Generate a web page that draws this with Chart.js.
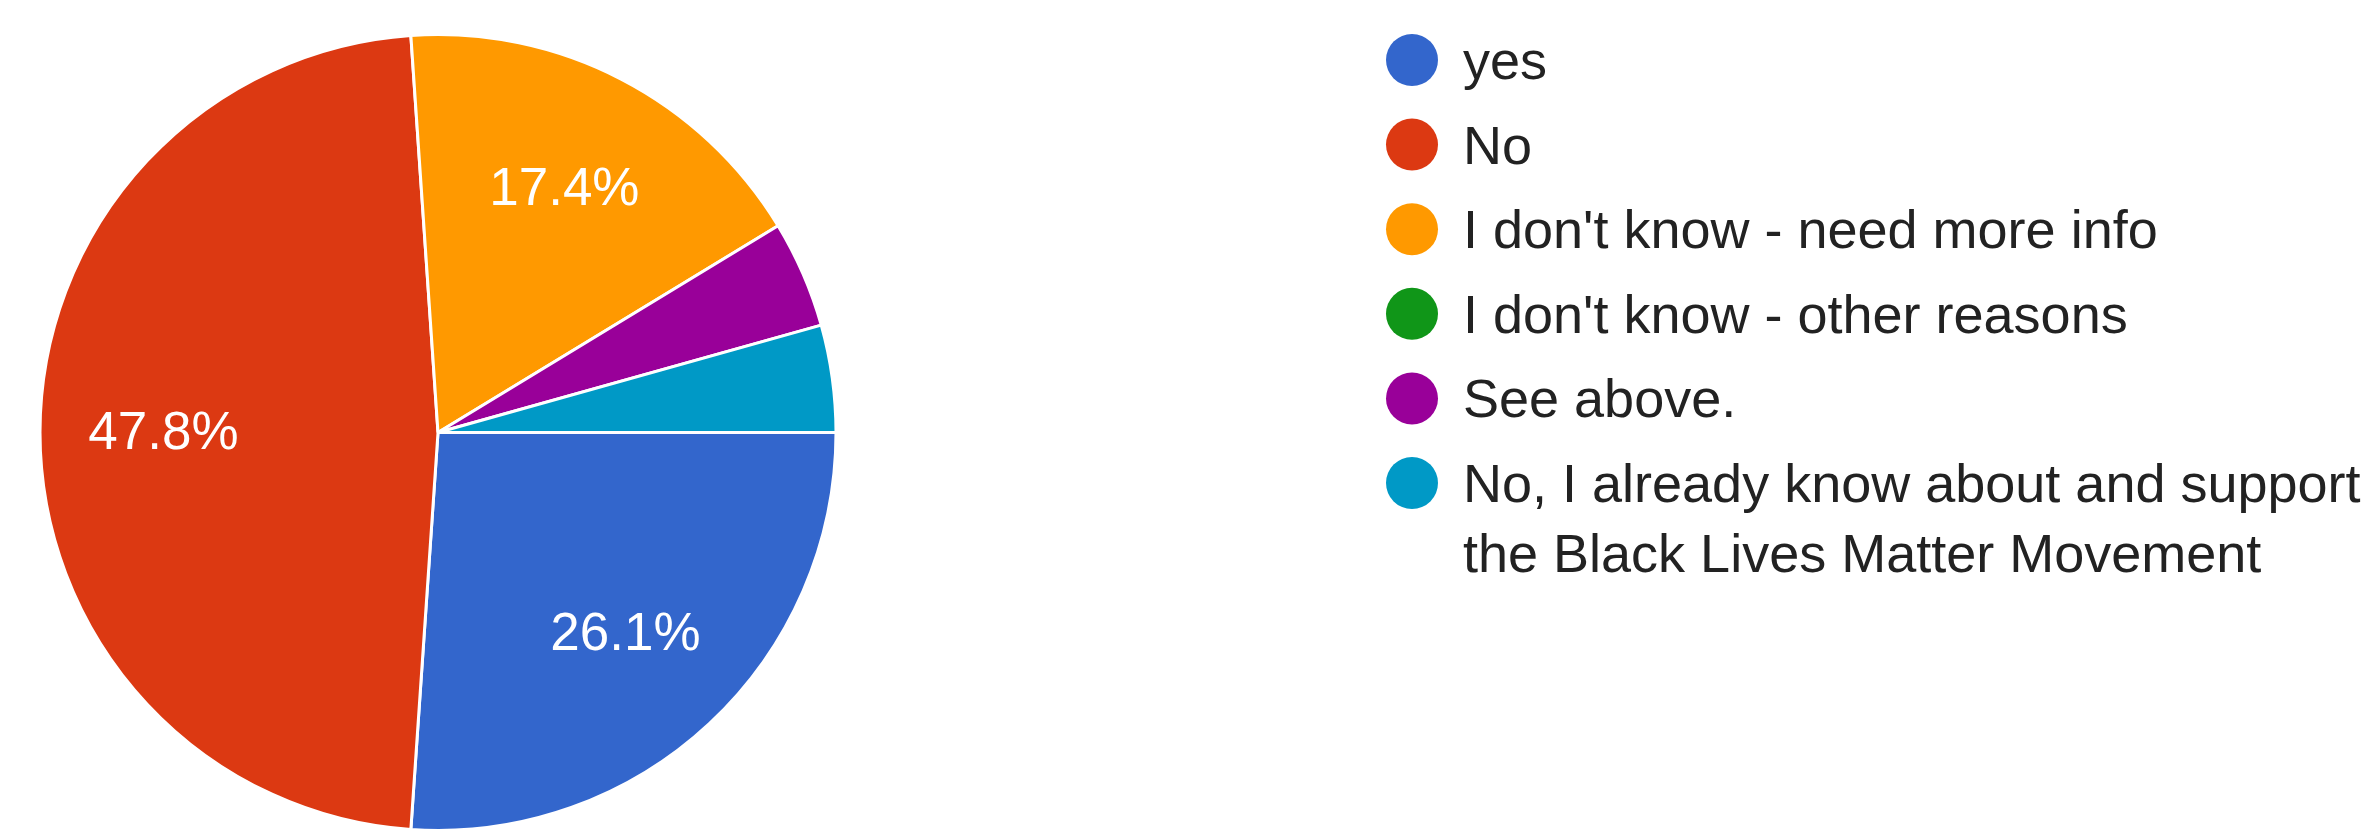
<!DOCTYPE html>
<html>
<head>
<meta charset="utf-8">
<script src="https://cdn.jsdelivr.net/npm/chart.js@4"></script>
<style>
  html,body{margin:0;padding:0;background:#fff;}
  #wrap{position:relative;width:2379px;height:832px;}
</style>
</head>
<body>
<div id="wrap"><canvas id="pie"></canvas></div>
<script>
// answers (Google Forms pie), counts out of 23 responses
const LABELS=['yes','No',"I don't know - need more info","I don't know - other reasons",'See above.','No, I already know about and support the Black Lives Matter Movement'];
const COUNTS=[6,11,4,0,1,1];
const COLORS=['#3366cc','#dc3912','#ff9900','#109618','#990099','#0099c6'];

const FONT='"Liberation Sans", Arial, sans-serif';
const TOTAL=COUNTS.reduce((a,b)=>a+b,0);

// percent labels inside the bigger slices
const sliceLabels={
  id:'sliceLabels',
  afterDatasetsDraw(chart){
    const ctx=chart.ctx, meta=chart.getDatasetMeta(0);
    ctx.save();
    ctx.font='53px '+FONT; ctx.fillStyle='#fff';
    ctx.textAlign='center'; ctx.textBaseline='middle';
    meta.data.forEach((arc,i)=>{
      const pct=COUNTS[i]/TOTAL*100;
      if(pct<5) return;
      const p=arc.getProps(['x','y','startAngle','endAngle','outerRadius'],true);
      const a=(p.startAngle+p.endAngle)/2, r=p.outerRadius*0.69;
      ctx.fillText(pct.toFixed(1)+'%',p.x+Math.cos(a)*r,p.y+Math.sin(a)*r+2);
    });
    ctx.restore();
  }
};

function wrap(ctx,text,maxW){
  const words=text.split(' '), lines=[];
  let cur='';
  words.forEach(w=>{
    const t=cur?cur+' '+w:w;
    if(ctx.measureText(t).width>maxW&&cur){ lines.push(cur); cur=w; }
    else cur=t;
  });
  if(cur) lines.push(cur);
  return lines;
}

// legend on the right, circles + wrapped text like the forms summary
const sideLegend={
  id:'sideLegend',
  afterDraw(chart){
    const ctx=chart.ctx;
    const cx=1412, tx=1463, y0=60, step=84.6, lh=70;
    ctx.save();
    ctx.font='54px '+FONT; ctx.textAlign='left'; ctx.textBaseline='alphabetic';
    chart.data.labels.forEach((lab,i)=>{
      const cy=y0+i*step;
      ctx.beginPath(); ctx.arc(cx,cy,26,0,Math.PI*2);
      ctx.fillStyle=chart.data.datasets[0].backgroundColor[i]; ctx.fill();
      ctx.fillStyle='#222';
      wrap(ctx,lab,2379-tx-2).forEach((ln,k)=>ctx.fillText(ln,tx,cy+19+k*lh));
    });
    ctx.restore();
  }
};

new Chart(document.getElementById('pie'),{
  type:'pie',
  data:{labels:LABELS,datasets:[{data:COUNTS,backgroundColor:COLORS,borderColor:'#fff',borderWidth:3}]},
  options:{
    responsive:true,maintainAspectRatio:false,animation:false,devicePixelRatio:1,
    rotation:90,
    layout:{padding:{left:37,right:1540,top:33,bottom:0}},
    plugins:{legend:{display:false},tooltip:{enabled:false}}
  },
  plugins:[sliceLabels,sideLegend]
});
</script>
</body>
</html>
